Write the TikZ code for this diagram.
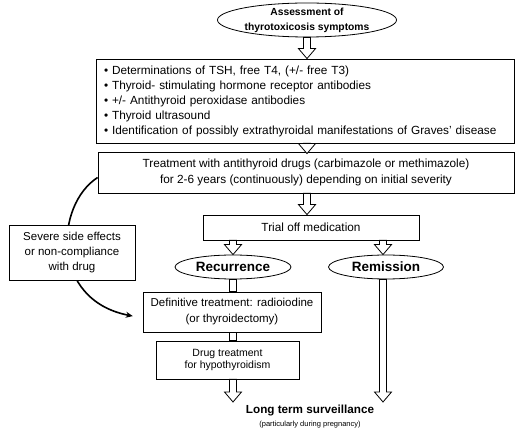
\documentclass[tikz,border=0pt]{standalone}
\usepackage{fontspec}
\setmainfont{Liberation Sans}
\usetikzlibrary{shapes.geometric,arrows.meta,calc}
\tikzset{
  box/.style={draw, line width=0.8pt, fill=white, inner sep=0pt, align=center,
    font=\fontsize{11.8}{15.5}\selectfont},
  oval/.style={draw, ellipse, line width=0.8pt, fill=white, inner sep=-15pt, align=center,
    font=\bfseries\fontsize{10.3}{15}\selectfont},
  hollow/.style={draw, line width=0.8pt, fill=white,
    to path={let \p1=(\tikztostart), \p2=(\tikztotarget) in
      (\x1-3.5pt,\y1) -- (\x1-3.5pt,\y2+10pt) -- (\x1-8.5pt,\y2+10pt) -- (\x1,\y2)
      -- (\x1+8.5pt,\y2+10pt) -- (\x1+3.5pt,\y2+10pt) -- (\x1+3.5pt,\y1) -- cycle}},
  shaft/.style={draw, line width=0.8pt, fill=white,
    to path={let \p1=(\tikztostart), \p2=(\tikztotarget) in
      (\x1-3.5pt,\y1) rectangle (\x1+3.5pt,\y2)}}
}

\begin{document}
\begin{tikzpicture}[x=1pt,y=-1pt]
  \useasboundingbox (0,0) rectangle (515,430);

  \node[oval, minimum width=179pt, minimum height=34pt] (assess) at (307,20)
    {Assessment of\\thyrotoxicosis symptoms};
  \node[box, align=left, text width=402pt, inner xsep=8pt, minimum height=84pt,
    font=\fontsize{11.8}{15}\selectfont] (tests) at (305,101)
    {\textbullet\ Determinations of TSH, free T4, (+/- free T3)\\
     \textbullet\ Thyroid- stimulating hormone receptor antibodies\\
     \textbullet\ +/- Antithyroid peroxidase antibodies\\
     \textbullet\ Thyroid ultrasound\\
     \textbullet\ Identification of possibly extrathyroidal manifestations of Graves' disease};
  \node[box, minimum width=416pt, minimum height=41pt] (treat) at (306,172.5)
    {Treatment with antithyroid drugs (carbimazole or methimazole)\\
     for 2-6 years (continuously) depending on initial severity};
  \node[box, minimum width=216pt, minimum height=25pt] (trial) at (311,227.5) {Trial off medication};
  \node[oval, minimum width=116pt, minimum height=24pt, font=\bfseries\fontsize{13.5}{15}\selectfont]
    (recur) at (233,267) {Recurrence};
  \node[oval, minimum width=115pt, minimum height=24pt, font=\bfseries\fontsize{13.5}{15}\selectfont]
    (remis) at (386,267) {Remission};
  \node[box, minimum width=178pt, minimum height=40pt, font=\fontsize{11.5}{16}\selectfont]
    (defin) at (232,312) {Definitive treatment: radioiodine\\(or thyroidectomy)};
  \node[box, minimum width=143pt, minimum height=38pt, font=\fontsize{10.5}{12.5}\selectfont]
    (drugtx) at (227.5,360) {Drug treatment\\for hypothyroidism};
  \node[font=\bfseries\fontsize{11.7}{14}\selectfont] (surv) at (310,411) {Long term surveillance};
  \node[font=\fontsize{7.5}{9}\selectfont] (note) at (310,425) {(particularly during pregnancy)};
  \coordinate (recend) at (233,402);
  \coordinate (remend) at (383,402);

  \draw[hollow] (assess.south) to (assess.south |- tests.north);
  \draw[hollow] (tests.south -| assess.south) to ([yshift=-2pt]treat.north -| assess.south);
  \draw[hollow] (treat.south -| assess.south) to (trial.north -| assess.south);
  \draw[hollow] (trial.south -| recur.north) to (recur.north);
  \draw[hollow] (trial.south -| remend) to (remis.north -| remend);
  \draw[shaft] (recur.south) to (recur.south |- defin.north);
  \draw[shaft] (defin.south -| recur.south) to (drugtx.north -| recur.south);
  \draw[hollow] (drugtx.south -| recend) to (recend);
  \draw[hollow] (remis.south -| remend) to (remend);

  % side path from treatment to definitive treatment
  \draw[line width=1.6pt, -{Stealth[length=7pt,width=6pt]}, shorten >=10pt]
    ([yshift=-5pt]treat.west) .. controls (55,205) and (50,300) .. ([yshift=-6pt]defin.west);
  \node[box, minimum width=126pt, minimum height=55pt, font=\fontsize{11.5}{15}\selectfont]
    (side) at (72,252.5) {Severe side effects\\or non-compliance\\with drug};
\end{tikzpicture}
\end{document}
